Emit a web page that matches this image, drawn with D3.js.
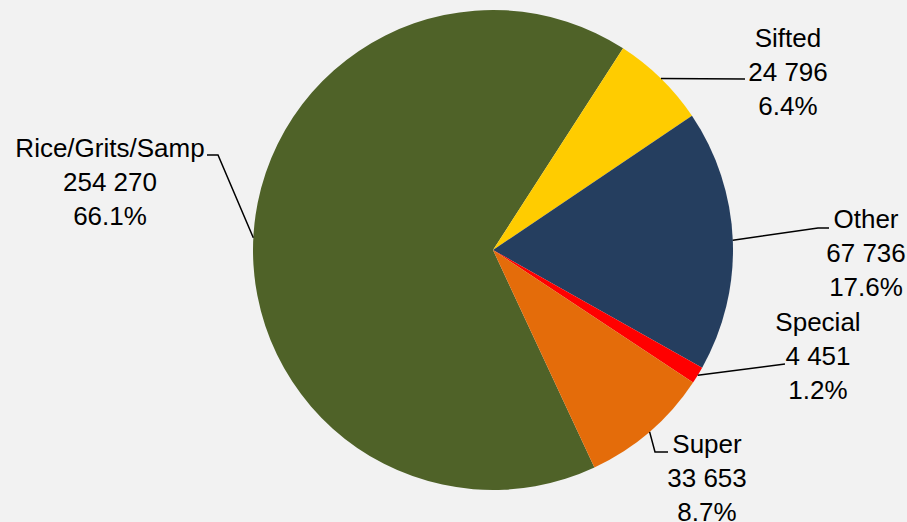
<!DOCTYPE html>
<html>
<head>
<meta charset="utf-8">
<script src="https://cdn.jsdelivr.net/npm/d3@7"></script>
<style>
  html, body { margin: 0; padding: 0; background: #f2f2f2; }
  .lbl { font-family: "Liberation Sans", Arial, sans-serif; font-size: 26px; fill: #000; }
</style>
</head>
<body>
<div class="chart"></div>
<script>
// data
let categories = ["Rice/Grits/Samp", "Sifted", "Other", "Special", "Super"];
let values = [254270, 24796, 67736, 4451, 33653];
let colors = ["#4f6228", "#ffcc00", "#253e5f", "#ff0000", "#e46c0a"];

// label layout: text centre, first baseline, leader bend points (pie end is computed)
let labelLayout = [
    { x: 110, y: 157, leader: [[207, 155], [218, 155]], anchor: -1.52 },
    { x: 788, y: 47, leader: [[745, 79]] },
    { x: 866, y: 228, leader: [[829, 228], [818, 228]] },
    { x: 818, y: 331, leader: [[785, 364]] },
    { x: 707, y: 453, leader: [[668, 452], [655, 452]] }
];

let w = 907;
let h = 522;
let cx = 493;
let cy = 250;
let r = 240;
let lineGap = 34;

const locale = d3.formatLocale({ decimal: ".", thousands: " ", grouping: [3], currency: ["", ""] });
const fmtNum = locale.format(",d");
const fmtPct = d3.format(".1%");

let total = d3.sum(values);
let rows = categories.map((c, i) => ({ name: c, value: values[i], color: colors[i], layout: labelLayout[i] }));

let start = 155 * Math.PI / 180;
const pie = d3.pie()
    .sort(null)
    .value(d => d.value)
    .startAngle(start)
    .endAngle(start + 2 * Math.PI);

const arc = d3.arc().innerRadius(0).outerRadius(r);

const svg = d3.select(".chart")
    .append("svg")
    .attr("width", w)
    .attr("height", h)
    .style("background-color", "#f2f2f2")
    .style("display", "block");

const g = svg.append("g").attr("transform", `translate(${cx},${cy})`);

let arcs = pie(rows);

g.selectAll("path.slice")
    .data(arcs)
    .enter()
    .append("path")
    .attr("class", "slice")
    .attr("d", arc)
    .attr("fill", d => d.data.color);

// leader lines
svg.selectAll("polyline.leader")
    .data(arcs)
    .enter()
    .append("polyline")
    .attr("class", "leader")
    .attr("fill", "none")
    .attr("stroke", "#000")
    .attr("stroke-width", 1.5)
    .attr("points", d => {
        let a = d.data.layout.anchor != null ? d.data.layout.anchor : (d.startAngle + d.endAngle) / 2;
        let end = [cx + r * Math.sin(a), cy - r * Math.cos(a)];
        return d.data.layout.leader.concat([end]).map(p => p.join(",")).join(" ");
    });

// labels
let labels = svg.selectAll("text.lbl")
    .data(arcs)
    .enter()
    .append("text")
    .attr("class", "lbl")
    .attr("text-anchor", "middle");

labels.append("tspan")
    .attr("x", d => d.data.layout.x)
    .attr("y", d => d.data.layout.y)
    .text(d => d.data.name);
labels.append("tspan")
    .attr("x", d => d.data.layout.x)
    .attr("y", d => d.data.layout.y + lineGap)
    .text(d => fmtNum(d.data.value));
labels.append("tspan")
    .attr("x", d => d.data.layout.x)
    .attr("y", d => d.data.layout.y + 2 * lineGap)
    .text(d => fmtPct(d.data.value / total));
</script>
</body>
</html>
